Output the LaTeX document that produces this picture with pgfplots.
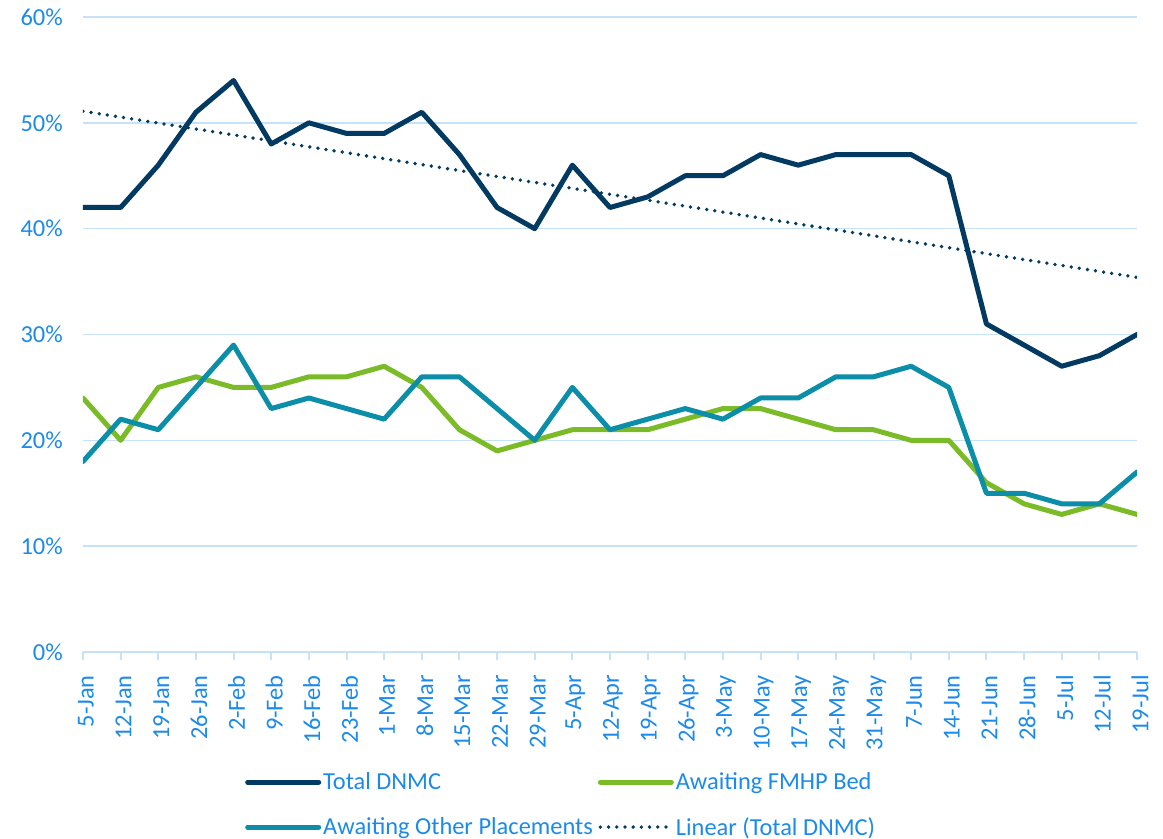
\documentclass[border=0pt]{standalone}
\usepackage{fontspec}
\setmainfont{Carlito}
\usepackage{pgfplots}
\pgfplotsset{compat=1.18}
\definecolor{navy}{RGB}{3,58,98}
\definecolor{lgreen}{RGB}{124,187,40}
\definecolor{teal2}{RGB}{12,142,168}
\definecolor{tblue}{RGB}{28,138,235}
\definecolor{gridc}{RGB}{198,226,248}
\begin{document}
\begin{tikzpicture}
\useasboundingbox (-83bp,-187bp) rectangle (1080bp,652bp);
\begin{axis}[
  at={(0,0)}, anchor=south west,
  scale only axis, width=1054bp, height=635bp,
  xmin=0, xmax=28, ymin=0, ymax=60,
  axis x line*=bottom, axis y line*=left,
  y axis line style={draw=none},
  x axis line style={draw=gridc, line width=2bp},
  ymajorgrids, grid style={draw=gridc, line width=1.6bp},
  xtick={0,...,28},
  xticklabels={5-Jan,12-Jan,19-Jan,26-Jan,2-Feb,9-Feb,16-Feb,23-Feb,1-Mar,8-Mar,15-Mar,22-Mar,29-Mar,5-Apr,12-Apr,19-Apr,26-Apr,3-May,10-May,17-May,24-May,31-May,7-Jun,14-Jun,21-Jun,28-Jun,5-Jul,12-Jul,19-Jul},
  ytick={0,10,20,30,40,50,60},
  yticklabels={0\%,10\%,20\%,30\%,40\%,50\%,60\%},
  tick align=outside,
  major tick length=8bp,
  xtick style={draw=gridc, line width=2bp},
  ytick style={draw=none},
  ticklabel style={font=\fontsize{24.5}{28}\selectfont, text=tblue},
  xticklabel style={yshift=-15bp, xshift=3bp, rotate=90, anchor=east, inner sep=0pt},
  yticklabel style={xshift=-12bp, anchor=east, inner sep=0pt},
  legend columns=2,
  legend cell align=left,
  legend style={draw=none, fill=none, at={(0.1537,-0.187)}, anchor=north west,
    font=\fontsize{24.5}{28}\selectfont, text=tblue, inner sep=0pt,
    /tikz/every even column/.append style={column sep=3bp},
    row sep=22bp},
  legend image code/.code={\draw[#1, line cap=round] (0bp,0bp) -- (71bp,0bp);},
]
\addplot[navy, line width=5bp, line join=round, line cap=round] coordinates {
(0,42)(1,42)(2,46)(3,51)(4,54)(5,48)(6,50)(7,49)(8,49)(9,51)(10,47)(11,42)(12,40)(13,46)(14,42)(15,43)(16,45)(17,45)(18,47)(19,46)(20,47)(21,47)(22,47)(23,45)(24,31)(25,29)(26,27)(27,28)(28,30)};
\addlegendentry{Total DNMC}
\addplot[lgreen, line width=5bp, line join=round, line cap=round] coordinates {
(0,24)(1,20)(2,25)(3,26)(4,25)(5,25)(6,26)(7,26)(8,27)(9,25)(10,21)(11,19)(12,20)(13,21)(14,21)(15,21)(16,22)(17,23)(18,23)(19,22)(20,21)(21,21)(22,20)(23,20)(24,16)(25,14)(26,13)(27,14)(28,13)};
\addlegendentry{Awaiting FMHP Bed}
\addplot[teal2, line width=5bp, line join=round, line cap=round] coordinates {
(0,18)(1,22)(2,21)(3,25)(4,29)(5,23)(6,24)(7,23)(8,22)(9,26)(10,26)(11,23)(12,20)(13,25)(14,21)(15,22)(16,23)(17,22)(18,24)(19,24)(20,26)(21,26)(22,27)(23,25)(24,15)(25,15)(26,14)(27,14)(28,17)};
\addlegendentry{Awaiting Other Placements}
\addplot[navy, line width=3.8bp, line cap=round, dash pattern=on 0bp off 8.2bp] coordinates {(0,51.1)(28,35.4)};
\addlegendentry{Linear (Total DNMC)}
\end{axis}
\end{tikzpicture}
\end{document}
